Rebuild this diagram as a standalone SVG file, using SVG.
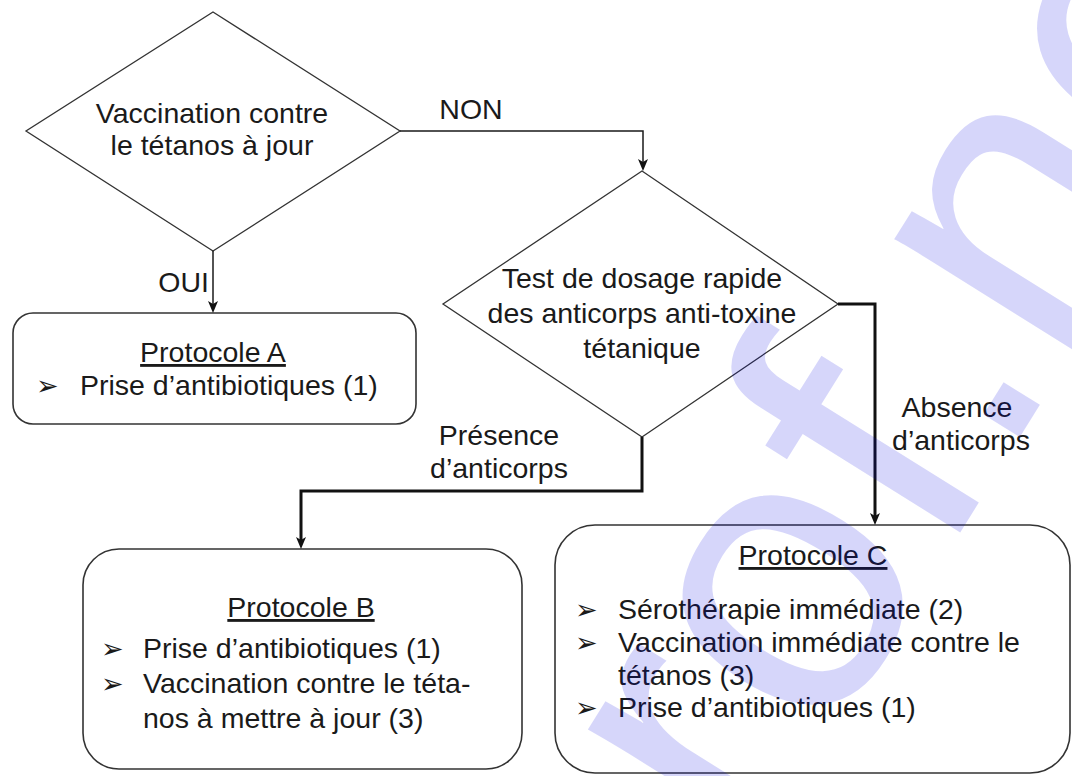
<svg xmlns="http://www.w3.org/2000/svg" width="1072" height="776" viewBox="0 0 1072 776">
  <style>
    text { font-family: "Liberation Sans", Arial, sans-serif; font-size: 28.5px; fill: #1a1a1a; }
    .c { text-anchor: middle; }
    .u { text-decoration: underline; }
    .b { font-family: "DejaVu Sans", sans-serif; font-size: 27px; }
    .dia { fill: #ffffff; stroke: #333333; stroke-width: 1.3; }
    .box { fill: #ffffff; stroke: #333333; stroke-width: 1.6; }
    .thin { fill: none; stroke: #1a1a1a; stroke-width: 1.5; marker-end: url(#arr); }
    .thick { fill: none; stroke: #111111; stroke-width: 3; marker-end: url(#arr); }
    .wm { font-family: "Liberation Sans", Arial, sans-serif; font-size: 400px; fill: #0000dd; fill-opacity: 0.16; }
  </style>
  <defs>
    <marker id="arr" markerUnits="userSpaceOnUse" markerWidth="13" markerHeight="11" refX="4" refY="5" orient="auto">
      <path d="M0,0 L12,5 L0,10 L3,5 z" fill="#111111"/>
    </marker>
  </defs>
  <rect width="1072" height="776" fill="#ffffff"/>

  <g id="decision-vaccination">
    <polygon class="dia" points="213,12 400,131 213,251 26,131"/>
    <text class="c" x="212" y="123">Vaccination contre</text>
    <text class="c" x="212" y="155">le tétanos à jour</text>
  </g>

  <g id="decision-test">
    <polygon class="dia" points="642,171 838,304 642,437 443,304"/>
    <text class="c" x="642" y="288">Test de dosage rapide</text>
    <text class="c" x="642" y="323">des anticorps anti-toxine</text>
    <text class="c" x="642" y="358">tétanique</text>
  </g>

  <g id="protocole-a">
    <rect class="box" x="13" y="313" width="403" height="111" rx="20"/>
    <text class="c u" x="213" y="362">Protocole A</text>
    <text class="b" x="36" y="395">➢</text>
    <text x="80" y="395">Prise d’antibiotiques (1)</text>
  </g>

  <g id="protocole-b">
    <rect class="box" x="83" y="549" width="439" height="220" rx="36"/>
    <text class="c u" x="301" y="617">Protocole B</text>
    <text class="b" x="101" y="658">➢</text>
    <text x="143" y="658">Prise d’antibiotiques (1)</text>
    <text class="b" x="101" y="693">➢</text>
    <text x="143" y="693">Vaccination contre le téta-</text>
    <text x="143" y="728">nos à mettre à jour (3)</text>
  </g>

  <g id="protocole-c">
    <rect class="box" x="555" y="525" width="515" height="248" rx="40"/>
    <text class="c u" x="813" y="565">Protocole C</text>
    <text class="b" x="575" y="619">➢</text>
    <text x="618" y="619">Sérothérapie immédiate (2)</text>
    <text class="b" x="575" y="652">➢</text>
    <text x="618" y="652">Vaccination immédiate contre le</text>
    <text x="618" y="685">tétanos (3)</text>
    <text class="b" x="575" y="717">➢</text>
    <text x="618" y="717">Prise d’antibiotiques (1)</text>
  </g>

  <g id="connectors">
    <path class="thin" d="M400,131 H643 V163"/>
    <path class="thin" d="M213,251 V305"/>
    <path class="thick" d="M642,437 V491 H301 V541"/>
    <path class="thick" d="M838,304 H875 V517"/>
    <text class="c" x="471" y="119">NON</text>
    <text x="209" y="292" text-anchor="end">OUI</text>
    <text class="c" x="499" y="445">Présence</text>
    <text class="c" x="499" y="478">d’anticorps</text>
    <text class="c" x="957" y="417">Absence</text>
    <text class="c" x="961" y="450">d’anticorps</text>
  </g>

  <g id="watermark">
    <text class="wm" transform="translate(753,864) rotate(-58)">rof.ne</text>
  </g>
</svg>
